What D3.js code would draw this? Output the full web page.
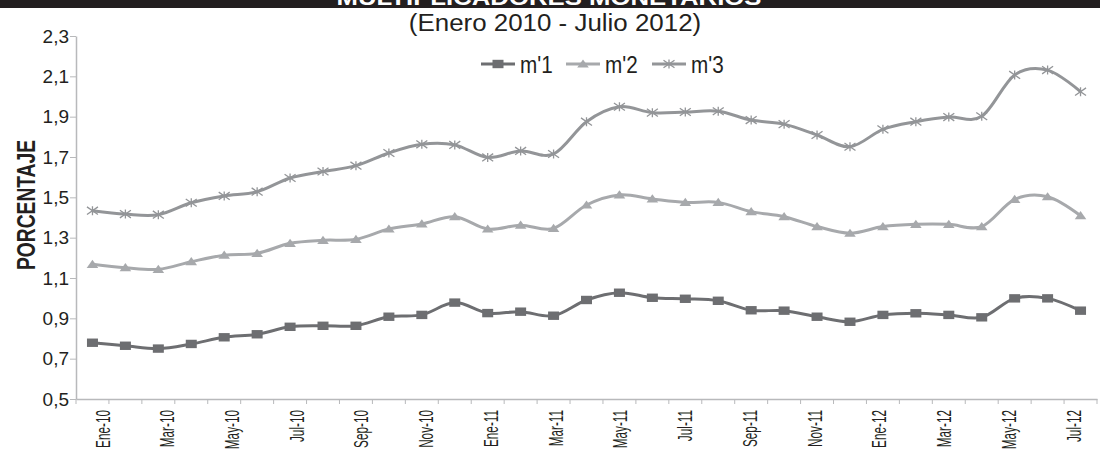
<!DOCTYPE html>
<html>
<head>
<meta charset="utf-8">
<script src="https://cdn.jsdelivr.net/npm/d3@7"></script>
<style>
  html, body { margin: 0; padding: 0; background: #fff; }
  svg { display: block; }
  text { font-family: "Liberation Sans", Arial, sans-serif; fill: #231f20; }
</style>
</head>
<body>
<svg id="chart" width="1100" height="450"></svg>
<script>
// ---- data ----
const categories = ["Ene-10","Feb-10","Mar-10","Abr-10","May-10","Jun-10","Jul-10","Ago-10","Sep-10","Oct-10","Nov-10","Dic-10",
  "Ene-11","Feb-11","Mar-11","Abr-11","May-11","Jun-11","Jul-11","Ago-11","Sep-11","Oct-11","Nov-11","Dic-11",
  "Ene-12","Feb-12","Mar-12","Abr-12","May-12","Jun-12","Jul-12"];
const m1 = [0.779,0.764,0.750,0.773,0.806,0.821,0.858,0.863,0.863,0.908,0.917,0.978,
  0.926,0.933,0.913,0.991,1.027,1.002,0.997,0.987,0.940,0.938,0.908,0.883,
  0.917,0.925,0.917,0.905,0.999,0.999,0.938];
const m2 = [1.168,1.151,1.143,1.181,1.213,1.222,1.272,1.287,1.292,1.343,1.368,1.404,
  1.343,1.362,1.346,1.462,1.512,1.492,1.475,1.475,1.429,1.404,1.355,1.322,
  1.355,1.366,1.366,1.355,1.490,1.503,1.409];
const m3 = [1.434,1.417,1.414,1.473,1.507,1.528,1.596,1.628,1.657,1.720,1.763,1.760,
  1.698,1.730,1.715,1.875,1.949,1.920,1.923,1.927,1.883,1.863,1.809,1.751,
  1.837,1.875,1.898,1.902,2.107,2.131,2.024];
const seriesNames = ["m'1","m'2","m'3"];
const yTicks = [0.5,0.7,0.9,1.1,1.3,1.5,1.7,1.9,2.1,2.3];
const xLabelCats = categories.filter((d,i) => i % 2 === 0);
const titleText = "MULTIPLICADORES MONETARIOS";
const subtitleText = "(Enero 2010 - Julio 2012)";
const yTitle = "PORCENTAJE";

// ---- layout ----
const svg = d3.select("#chart");
const X0 = 76, X1 = 1097, Y0 = 399, Y1 = 36;
const axisColor = "#b8b9bb";
const colors = {"m'1": "#6d6e71", "m'2": "#a7a9ac", "m'3": "#939598"};

const x = d3.scaleBand().domain(categories).range([X0, X1]).paddingInner(0).paddingOuter(0);
const xLab = d3.scalePoint().domain(categories).range([102, 1073]);
const y = d3.scaleLinear().domain([0.5, 2.3]).range([Y0, Y1]);
const cx = d => x(d) + x.bandwidth() / 2;

function stext(g, s, tx, ty, opt) {
  const t = g.append("text")
    .attr("transform", `translate(${tx},${ty})` + (opt.rot ? ` rotate(${opt.rot})` : "") + ` scale(${opt.sx || 1},1)`)
    .attr("font-size", opt.size)
    .attr("text-anchor", opt.anchor || "start")
    .text(s);
  if (opt.bold) t.attr("font-weight", "bold");
  if (opt.fill) t.style("fill", opt.fill);
  return t;
}

// title bar
svg.append("rect").attr("x", 0).attr("y", 0).attr("width", 1100).attr("height", 8).attr("fill", "#231f20");
stext(svg, titleText, 549, 5, {size: 22, sx: 1.17, anchor: "middle", bold: true, fill: "#ffffff"});
stext(svg, subtitleText, 555, 31, {size: 24, sx: 1.08, anchor: "middle"});

// y axis
const yAxis = svg.append("g").attr("transform", `translate(${X0},0)`)
  .call(d3.axisLeft(y).tickValues(yTicks).tickSize(6).tickSizeOuter(0)
    .tickFormat(d => d3.format(".1f")(d).replace(".", ",")));
yAxis.select(".domain").attr("stroke", axisColor).attr("stroke-width", 1.5);
yAxis.selectAll(".tick line").attr("stroke", axisColor).attr("stroke-width", 1);
yAxis.selectAll(".tick text").remove();
yTicks.forEach(v => {
  stext(svg, d3.format(".1f")(v).replace(".", ","), 69, y(v) + 6.8, {size: 19, sx: 1.0, anchor: "end"});
});
stext(svg, yTitle, 35, 205, {size: 25, sx: 0.77, rot: -90, anchor: "middle", bold: true});

// x axis
const xAxis = svg.append("g").attr("transform", `translate(0,${Y0})`)
  .call(d3.axisBottom(x).tickValues([]).tickSizeOuter(0));
xAxis.select(".domain").attr("stroke", axisColor).attr("stroke-width", 1.5);
const bounds = categories.map(d => x(d)).concat([x(categories[categories.length - 1]) + x.bandwidth()]);
xAxis.selectAll("line.tk").data(bounds).enter().append("line")
  .attr("class", "tk").attr("x1", d => d).attr("x2", d => d).attr("y1", 0).attr("y2", 5)
  .attr("stroke", axisColor).attr("stroke-width", 1);
xLabelCats.forEach(d => {
  stext(svg, d, xLab(d) + 7.5, 410, {size: 21, sx: 0.56, rot: -90, anchor: "end"});
});

// markers
function marker(g, name, px, py) {
  const c = colors[name];
  if (name === "m'1") {
    g.append("rect").attr("x", px - 5.5).attr("y", py - 4.2).attr("width", 11).attr("height", 8.4).attr("fill", c);
  } else if (name === "m'2") {
    g.append("path").attr("d", `M${px - 5.8},${py + 3.6}L${px + 5.8},${py + 3.6}L${px},${py - 4.6}Z`).attr("fill", c);
  } else {
    g.append("path").attr("d", `M${px},${py - 4.5}V${py + 4.5}M${px - 5.5},${py - 3.8}L${px + 5.5},${py + 3.8}M${px - 5.5},${py + 3.8}L${px + 5.5},${py - 3.8}`)
      .attr("stroke", c).attr("stroke-width", 1.3).attr("fill", "none");
  }
}

const series = [{name: "m'3", values: m3}, {name: "m'2", values: m2}, {name: "m'1", values: m1}];
const line = d3.line().x((v, i) => cx(categories[i])).y(v => y(v)).curve(d3.curveCatmullRom.alpha(0));
series.forEach(s => {
  const g = svg.append("g");
  g.append("path").datum(s.values).attr("d", line).attr("fill", "none")
    .attr("stroke", colors[s.name]).attr("stroke-width", 3).attr("stroke-linejoin", "round");
  s.values.forEach((v, i) => marker(g, s.name, cx(categories[i]), y(v)));
});

// legend
const legX = [481, 566, 652];
const legY = 64;
seriesNames.forEach((n, i) => {
  const g = svg.append("g");
  g.append("line").attr("x1", legX[i]).attr("x2", legX[i] + 34).attr("y1", legY).attr("y2", legY)
    .attr("stroke", colors[n]).attr("stroke-width", 3);
  marker(g, n, legX[i] + 17, legY);
  stext(g, n, legX[i] + 39, legY + 9, {size: 23, sx: 0.9});
});
</script>
</body>
</html>
